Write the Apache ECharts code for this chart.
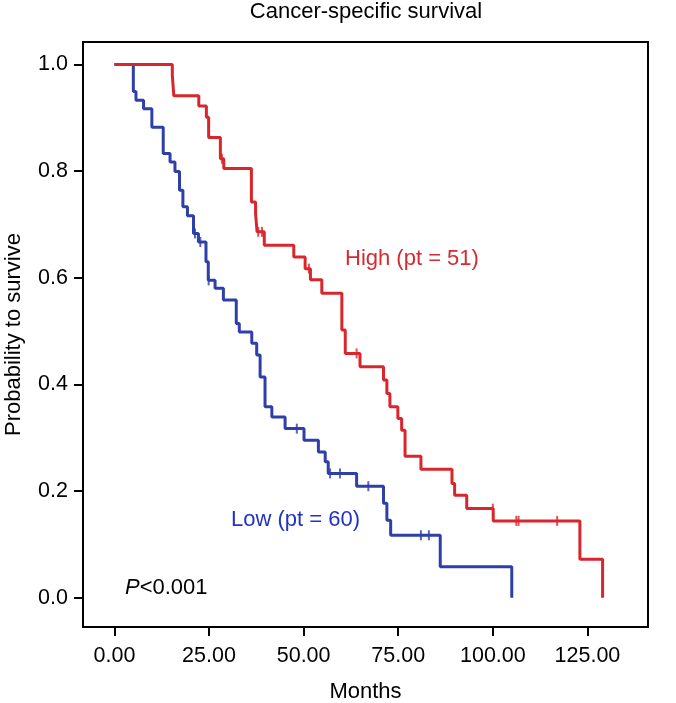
<!DOCTYPE html>
<html>
<head>
<meta charset="utf-8">
<script src="https://cdn.jsdelivr.net/npm/echarts@6/dist/echarts.min.js"></script>
<style>html,body{margin:0;padding:0;background:#fff}#c{width:676px;height:703px}</style>
</head>
<body>
<div id="c"></div>
<script>
// ---- data ----
const xTicks = [0, 25, 50, 75, 100, 125];
const yTicks = [0, 0.2, 0.4, 0.6, 0.8, 1.0];

// High group (pt = 51): event times (months) and survival after each step
const highTimes = [0, 15.3, 15.7, 22.3, 24.3, 24.9, 28.0, 28.9, 36.2, 37.3, 37.7, 39.6, 47.4, 50.4, 51.8, 54.8, 60.1, 61.0, 64.9, 71.1, 72.0, 72.8, 74.9, 75.9, 76.8, 81.0, 89.2, 89.9, 93.1, 100.1, 123.0, 129.0];
const highSurv  = [1.0, 0.980, 0.941, 0.922, 0.901, 0.863, 0.823, 0.805, 0.742, 0.720, 0.686, 0.661, 0.639, 0.617, 0.596, 0.571, 0.502, 0.458, 0.433, 0.408, 0.383, 0.358, 0.336, 0.314, 0.265, 0.241, 0.214, 0.192, 0.167, 0.144, 0.072, 0.0];
const highCensor = [28.4, 38.0, 39.0, 51.4, 64.0, 100.0, 106.2, 106.8, 117.0];

// Low group (pt = 60)
const lowTimes = [0, 5.0, 5.7, 7.7, 9.9, 12.9, 14.7, 16.0, 17.2, 18.1, 19.3, 20.9, 22.2, 24.2, 24.8, 26.6, 28.8, 32.2, 33.0, 36.3, 37.6, 38.5, 39.8, 41.6, 45.1, 50.1, 53.9, 55.7, 56.5, 64.0, 71.1, 72.0, 73.0, 86.1, 105.0];
const lowSurv  = [1.0, 0.949, 0.933, 0.917, 0.882, 0.833, 0.817, 0.799, 0.764, 0.733, 0.716, 0.683, 0.667, 0.630, 0.595, 0.580, 0.558, 0.514, 0.498, 0.477, 0.455, 0.414, 0.358, 0.339, 0.317, 0.295, 0.273, 0.255, 0.233, 0.209, 0.177, 0.145, 0.117, 0.058, 0.0];
const lowCensor = [21.3, 22.7, 24.9, 48.2, 57.0, 59.6, 67.1, 81.0, 83.1];

const RED = '#d9262c';
const BLUE = '#2e3fa8';
const FONT = 'Liberation Sans, Arial, Helvetica, sans-serif';

function zip(t, s) { return t.map((v, i) => [v, s[i]]); }
function survAt(times, surv, t) {
  let v = surv[0];
  for (let i = 0; i < times.length; i++) { if (times[i] <= t) v = surv[i]; }
  return v;
}
function censorPts(c, times, surv) { return c.map(t => [t, survAt(times, surv, t)]); }

const chart = echarts.init(document.getElementById('c'), null, {renderer: 'canvas'});
chart.setOption({
  animation: false,
  backgroundColor: '#fff',
  grid: {left: 83, right: 28, top: 42, bottom: 76, show: true, borderColor: '#000', borderWidth: 2,
         backgroundColor: 'transparent', containLabel: false, outerBoundsMode: 'none'},
  xAxis: {
    type: 'value', min: -8.3, max: 141,
    axisLine: {show: false, onZero: false}, splitLine: {show: false},
    axisTick: {show: true, inside: false, customValues: xTicks, length: 9, lineStyle: {color: '#000', width: 2}},
    axisLabel: {customValues: xTicks, formatter: v => v.toFixed(2), fontSize: 21.5, color: '#000', margin: 18, fontFamily: FONT},
    name: 'Months', nameLocation: 'middle', nameGap: 54,
    nameTextStyle: {fontSize: 22, color: '#000', fontFamily: FONT}
  },
  yAxis: {
    type: 'value', min: -0.055, max: 1.042,
    axisLine: {show: false, onZero: false}, splitLine: {show: false},
    axisTick: {show: true, inside: false, customValues: yTicks, length: 9, lineStyle: {color: '#000', width: 2}},
    axisLabel: {customValues: yTicks, formatter: v => v.toFixed(1), fontSize: 21.5, color: '#000', margin: 15, fontFamily: FONT},
    name: 'Probability to survive', nameLocation: 'middle', nameGap: 58,
    nameTextStyle: {fontSize: 22, color: '#000', fontFamily: FONT}
  },
  graphic: [
    {type: 'text', x: 366, y: 12, style: {text: 'Cancer-specific survival', font: '22px ' + FONT, fill: '#000', textAlign: 'center', textVerticalAlign: 'middle'}},
    {type: 'text', x: 345, y: 259, style: {text: 'High (pt = 51)', font: '22px ' + FONT, fill: '#d42a30', textAlign: 'left', textVerticalAlign: 'middle'}},
    {type: 'text', x: 231, y: 520, style: {text: 'Low (pt = 60)', font: '22px ' + FONT, fill: '#2233c4', textAlign: 'left', textVerticalAlign: 'middle'}},
    {type: 'text', x: 125, y: 588, style: {
      text: '{i|P}{n|<0.001}', textAlign: 'left', textVerticalAlign: 'middle',
      rich: {i: {font: 'italic 22px ' + FONT, fill: '#000'}, n: {font: '22px ' + FONT, fill: '#000'}}
    }}
  ],
  series: [
    {type: 'line', step: 'end', data: zip(lowTimes, lowSurv), showSymbol: false, lineStyle: {color: BLUE, width: 3}, itemStyle: {color: BLUE}, z: 2},
    {type: 'scatter', data: censorPts(lowCensor, lowTimes, lowSurv), symbol: 'rect', symbolSize: [2, 10], itemStyle: {color: BLUE}, z: 3},
    {type: 'line', step: 'end', data: zip(highTimes, highSurv), showSymbol: false, lineStyle: {color: RED, width: 3}, itemStyle: {color: RED}, z: 4},
    {type: 'scatter', data: censorPts(highCensor, highTimes, highSurv), symbol: 'rect', symbolSize: [2, 10], itemStyle: {color: RED}, z: 5}
  ]
});
</script>
</body>
</html>
